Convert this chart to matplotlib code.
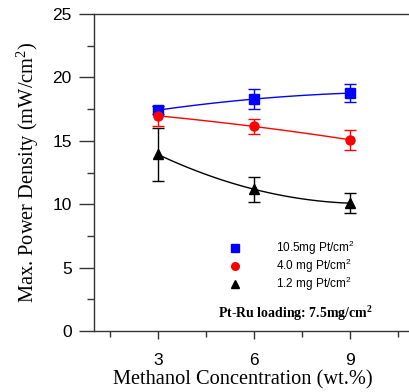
import numpy as np
import matplotlib
matplotlib.use("Agg")
import matplotlib.pyplot as plt
from matplotlib.lines import Line2D

# Methanol concentration (wt.%)
conc = [3, 6, 9]

# Max. power density (mW/cm^2) and error bars for each cathode Pt loading
pd_105 = [17.42, 18.29, 18.76]
err_105 = [0.33, 0.78, 0.71]
pd_40 = [16.97, 16.13, 15.08]
err_40 = [0.80, 0.60, 0.78]
pd_12 = [13.92, 11.18, 10.08]
err_12 = [2.08, 0.97, 0.80]

labels = ["10.5mg Pt/cm$\\mathregular{^2}$",
          "4.0 mg Pt/cm$\\mathregular{^2}$",
          "1.2 mg Pt/cm$\\mathregular{^2}$"]
colors = ["#0000ff", "#ff0000", "#000000"]
markers = ["s", "o", "^"]

xticks = [3, 6, 9]
xminor = [1.5, 4.5, 7.5, 10.5]
yticks = [0, 5, 10, 15, 20, 25]
yminor = [2.5, 7.5, 12.5, 17.5, 22.5]

plt.rcParams["font.family"] = ["Liberation Sans", "DejaVu Sans"]

fig = plt.figure(figsize=(4.10, 3.92), dpi=100)
ax = fig.add_axes([94 / 410, 61 / 392, 320 / 410, 317 / 392])

spine_col = "#333333"
series = [(pd_105, err_105), (pd_40, err_40), (pd_12, err_12)]
handles = []
xs = np.linspace(3, 9, 100)
for (vals, errs), c, m, lab in zip(series, colors, markers, labels):
    coef = np.polyfit(conc, vals, 2)
    ax.plot(xs, np.polyval(coef, xs), color=c, lw=1.0, zorder=2)
    ax.errorbar(conc, vals, yerr=errs, fmt="none", ecolor=c, elinewidth=1.0,
                capsize=4.5, capthick=1.0, zorder=3)
    ax.plot(conc, vals, ls="none", marker=m, ms=6.5, color=c, zorder=4)
    handles.append(Line2D([], [], ls="none", marker=m, ms=5.5, color=c, label=lab))

ax.set_xlim(1, 11)
ax.set_ylim(0, 25)
ax.set_xticks(xticks)
ax.set_xticks(xminor, minor=True)
ax.set_yticks(yticks)
ax.set_yticks(yminor, minor=True)

ax.tick_params(axis="y", which="major", direction="out", length=11, width=1.0,
               color=spine_col, labelsize=12.5, pad=5)
ax.tick_params(axis="y", which="minor", direction="out", length=5, width=1.0,
               color=spine_col)
ax.tick_params(axis="x", which="major", direction="out", length=5.5, width=1.0,
               color=spine_col, labelsize=12.5, pad=10)
ax.tick_params(axis="x", which="minor", direction="out", length=4.5, width=1.0,
               color=spine_col)

for s in ax.spines.values():
    s.set_color(spine_col)
    s.set_linewidth(1.0)

ax.set_xlabel("Methanol Concentration (wt.%)", family="Liberation Serif",
              fontsize=14.7)
ax.xaxis.set_label_coords((243 - 94) / 320, -0.125)
ax.set_ylabel("Max. Power Density (mW/cm$\\mathregular{^2}$)",
              family="Liberation Serif", fontsize=14.7, labelpad=8)

ax.legend(handles=handles, loc="upper left", bbox_to_anchor=(0.422, 0.291),
          frameon=False, fontsize=8.5, handletextpad=3.0, handlelength=1.0,
          labelspacing=0.0, borderaxespad=0, borderpad=0)

ax.text((295 - 94) / 320, 0.054, "Pt-Ru loading: 7.5mg/cm$\\mathregular{^2}$",
        transform=ax.transAxes, family="Liberation Serif", fontweight="bold",
        fontsize=10, ha="center", va="center")

fig.savefig("out.png", dpi=100)
